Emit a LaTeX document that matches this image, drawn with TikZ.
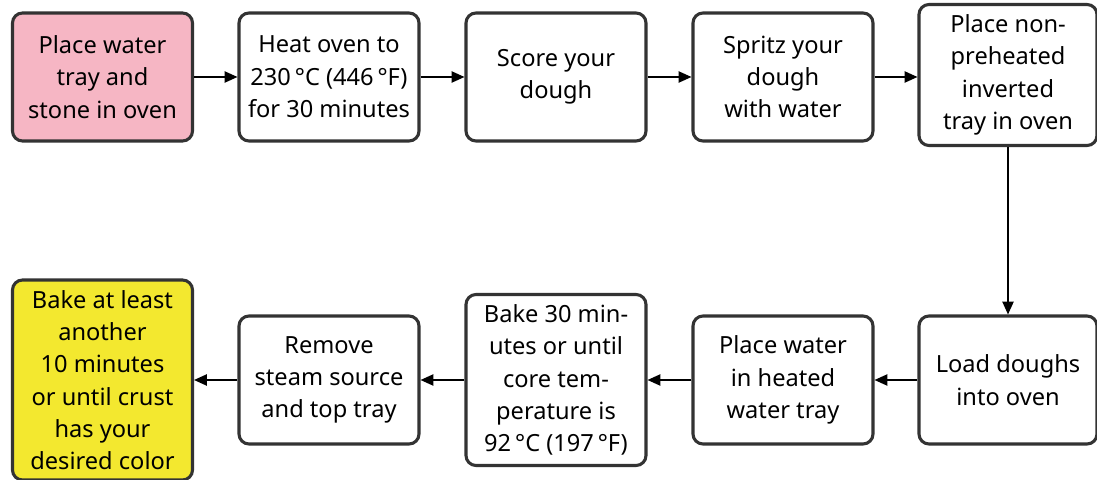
\documentclass[tikz,border=0pt]{standalone}
\usepackage{fontspec}
\setmainfont{Noto Sans}
\usetikzlibrary{arrows.meta, positioning}

\definecolor{startpink}{HTML}{F6B6C4}
\definecolor{endyellow}{HTML}{F3E82F}
\definecolor{boxline}{HTML}{333333}

\tikzset{
    stepbox/.style={draw=boxline, line width=2.2pt, rounded corners=0.25cm, fill=white,
        align=center, inner sep=0pt, minimum width=4.5cm, minimum height=3.2cm,
        font=\fontsize{16.8pt}{23pt}\selectfont},
    flow/.style={-{Triangle[length=0.32cm, width=0.28cm]}, line width=1.1pt}
}

\begin{document}
\begin{tikzpicture}
    \useasboundingbox (0, 0) rectangle (27.425, 11.975);

    \node[stepbox, fill=startpink] (water) at (2.5625, 10.05) {Place water\\tray and\\stone in oven};
    \node[stepbox] (heat) at (8.225, 10.05) {Heat oven to\\230\,°C (446\,°F)\\for 30 minutes};
    \node[stepbox] (score) at (13.9, 10.05) {Score your\\dough};
    \node[stepbox] (spritz) at (19.575, 10.05) {Spritz your\\dough\\with water};
    \node[stepbox, minimum width=4.45cm, minimum height=3.525cm] (tray) at (25.2, 10.1) {Place non-\\preheated\\inverted\\tray in oven};

    \node[stepbox, minimum width=4.45cm] (load) at (25.2, 2.475) {Load doughs\\into oven};
    \node[stepbox] (heated) at (19.575, 2.475) {Place water\\in heated\\water tray};
    \node[stepbox, minimum height=4.275cm] (bake) at (13.9, 2.475) {Bake 30 min-\\utes or until\\core tem-\\perature is\\92\,°C (197\,°F)};
    \node[stepbox] (remove) at (8.225, 2.475) {Remove\\steam source\\and top tray};
    \node[stepbox, fill=endyellow, minimum height=5cm] (final) at (2.5625, 2.475) {Bake at least\\another\\10 minutes\\or until crust\\has your\\desired color};

    \draw[flow] (water.east) -- (heat.west);
    \draw[flow] (heat.east) -- (score.west);
    \draw[flow] (score.east) -- (spritz.west);
    \draw[flow] (spritz.east) -- (tray.west |- spritz.east);
    \draw[flow] (tray.south) -- (load.north);
    \draw[flow] (load.west) -- (heated.east);
    \draw[flow] (heated.west) -- (bake.east);
    \draw[flow] (bake.west) -- (remove.east);
    \draw[flow] (remove.west) -- (final.east);
\end{tikzpicture}
\end{document}
